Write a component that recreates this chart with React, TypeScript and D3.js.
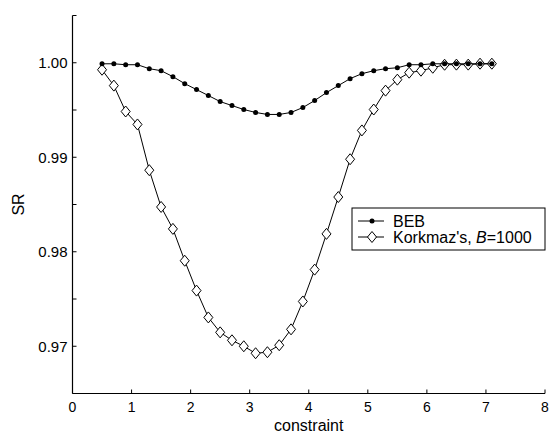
import React from "react";
import * as d3 from "d3";

const constraint = [
  0.5, 0.7, 0.9, 1.1, 1.3, 1.5, 1.7, 1.9, 2.1, 2.3, 2.5, 2.7, 2.9, 3.1, 3.3, 3.5, 3.7,
  3.9, 4.1, 4.3, 4.5, 4.7, 4.9, 5.1, 5.3, 5.5, 5.7, 5.9, 6.1, 6.3, 6.5, 6.7, 6.9, 7.1,
];

const beb = [
  0.99989, 0.99989, 0.99979, 0.99979, 0.99937, 0.99916, 0.99853, 0.99779, 0.99716,
  0.99653, 0.99589, 0.99547, 0.99505, 0.99474, 0.99453, 0.99453, 0.99474, 0.99526,
  0.996, 0.99684, 0.99758, 0.99832, 0.99884, 0.99916, 0.99937, 0.99947, 0.99979,
  0.99979, 0.99989, 0.99989, 0.99989, 0.99989, 0.99989, 0.99989,
];

const korkmaz = [
  0.99926, 0.99758, 0.99484, 0.99347, 0.98863, 0.98474, 0.98242, 0.97905, 0.97589,
  0.97305, 0.97147, 0.97063, 0.97, 0.96926, 0.96937, 0.97011, 0.97179, 0.97474,
  0.97811, 0.98189, 0.98579, 0.98979, 0.99284, 0.99505, 0.99705, 0.99821, 0.99895,
  0.99916, 0.99947, 0.99979, 0.9998, 0.9998, 0.9999, 0.9999,
];

const xTicks = [0, 1, 2, 3, 4, 5, 6, 7, 8];
const yTicks = [0.97, 0.98, 0.99, 1.0];
const yMinorTicks = [0.975, 0.985, 0.995, 1.005];

const W = 551;
const H = 434;
const FONT = "'Liberation Sans', Arial, Helvetica, sans-serif";

export default function App() {
  const x = d3.scaleLinear().domain([0, 8]).range([72.5, 545]);
  const y = d3.scaleLinear().domain([0.965, 1.005]).range([393.5, 15.5]);

  const line = d3
    .line<number>()
    .x((_, i) => x(constraint[i]))
    .y((d) => y(d));

  const diamond = (cx: number, cy: number) =>
    `M${cx},${cy - 5.5}L${cx + 4.5},${cy}L${cx},${cy + 5.5}L${cx - 4.5},${cy}Z`;

  const x0 = x(0);
  const y0 = y(0.965);

  return (
    <svg
      width={W}
      height={H}
      style={{ position: "absolute", left: 0, top: 0, background: "#fff" }}
      fontFamily={FONT}
    >
      {/* axes */}
      <line x1={x0} x2={x0} y1={y(1.005)} y2={y0} stroke="#000" strokeWidth={1.2} />
      <line x1={x0} x2={x(8)} y1={y0} y2={y0} stroke="#000" strokeWidth={1.2} />

      {xTicks.map((t) => (
        <g key={"x" + t}>
          <line x1={x(t)} x2={x(t)} y1={y0} y2={y0 - 4} stroke="#000" />
          <text x={x(t)} y={y0 + 18} textAnchor="middle" fontSize={14}>
            {t}
          </text>
        </g>
      ))}
      {yTicks.map((t) => (
        <g key={"y" + t}>
          <line x1={x0} x2={x0 + 4} y1={y(t)} y2={y(t)} stroke="#000" />
          <text x={x0 - 5} y={y(t)} dy="0.35em" textAnchor="end" fontSize={15}>
            {t.toFixed(2)}
          </text>
        </g>
      ))}
      {yMinorTicks.map((t) => (
        <line key={"m" + t} x1={x0} x2={x0 + 4} y1={y(t)} y2={y(t)} stroke="#000" />
      ))}

      <text x={(x(0) + x(8)) / 2} y={431} textAnchor="middle" fontSize={16}>
        constraint
      </text>
      <text
        transform={`translate(24,${y(0.985)}) rotate(-90)`}
        textAnchor="middle"
        fontSize={16}
      >
        SR
      </text>

      {/* Korkmaz's series */}
      <path d={line(korkmaz) ?? ""} fill="none" stroke="#000" strokeWidth={1} />
      {korkmaz.map((v, i) => (
        <path
          key={"k" + i}
          d={diamond(x(constraint[i]), y(v))}
          fill="#fff"
          stroke="#000"
          strokeWidth={1}
        />
      ))}

      {/* BEB series */}
      <path d={line(beb) ?? ""} fill="none" stroke="#000" strokeWidth={1} />
      {beb.map((v, i) => (
        <circle key={"b" + i} cx={x(constraint[i])} cy={y(v)} r={2.5} fill="#000" />
      ))}

      {/* legend */}
      <rect x={352} y={208} width={193} height={42} fill="#fff" stroke="#000" strokeWidth={1} />
      <line x1={358} x2={384} y1={221} y2={221} stroke="#000" />
      <circle cx={372} cy={221} r={2.5} fill="#000" />
      <text x={393} y={221} dy="0.35em" fontSize={16}>
        BEB
      </text>
      <line x1={358} x2={384} y1={237} y2={237} stroke="#000" />
      <path d={diamond(372, 237)} fill="#fff" stroke="#000" />
      <text x={393} y={237} dy="0.35em" fontSize={16}>
        Korkmaz's, <tspan fontStyle="italic">B</tspan>=1000
      </text>
    </svg>
  );
}
